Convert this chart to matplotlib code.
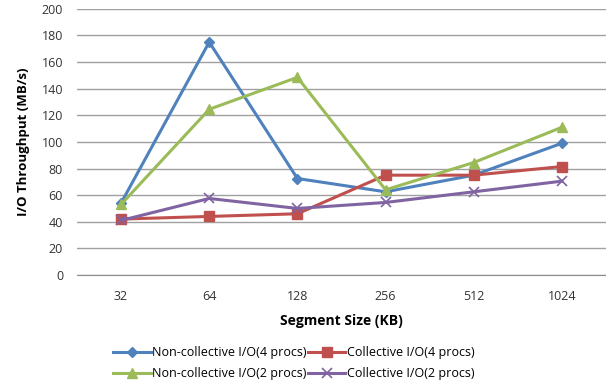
import matplotlib.pyplot as plt
import numpy as np

plt.rcParams['font.family'] = ['Open Sans', 'DejaVu Sans']

sizes = ['32', '64', '128', '256', '512', '1024']
noncoll_4 = [54, 175, 72.5, 62.5, 75, 99]
coll_4 = [42, 44, 46, 75, 75, 81.5]
noncoll_2 = [53, 124.5, 148.5, 64, 84.5, 111]
coll_2 = [41, 57.5, 50, 54.5, 62.5, 70.5]

fig = plt.figure(figsize=(6.06, 3.83), dpi=100)
ax = fig.add_axes([0.127, 0.282, 0.873, 0.695])

x = np.arange(len(sizes))
lw = 2.2
l1, = ax.plot(x, noncoll_4, color='#4F81BD', lw=lw, marker='D', ms=5, label='Non-collective I/O(4 procs)')
l2, = ax.plot(x, coll_4, color='#C0504D', lw=lw, marker='s', ms=7, label='Collective I/O(4 procs)')
l3, = ax.plot(x, noncoll_2, color='#9BBB59', lw=lw, marker='^', ms=7.5, label='Non-collective I/O(2 procs)')
l4, = ax.plot(x, coll_2, color='#8064A2', lw=lw, marker='x', ms=7, mew=1.2, label='Collective I/O(2 procs)')

ax.set_xlim(-0.5, len(sizes) - 0.5)
ax.set_ylim(0, 200)
ax.set_yticks(range(0, 201, 20))
ax.set_xticks(x)
ax.set_xticklabels(sizes)
ax.tick_params(length=0, labelsize=9, colors='#333333')
ax.tick_params(axis='x', pad=11)
ax.tick_params(axis='y', pad=10)
ax.grid(axis='y', color='#A0A0A0', lw=1)
ax.set_axisbelow(True)
for s in ['top', 'right', 'left']:
    ax.spines[s].set_visible(False)
ax.spines['bottom'].set_color('#8C8C8C')

ax.set_xlabel('Segment Size (KB)', fontsize=10, fontweight='bold', labelpad=8)
ax.set_ylabel('I/O Throughput (MB/s)', fontsize=9.5, fontweight='bold', labelpad=8)

handles = [l1, l3, l2, l4]
fig.legend(handles, [h.get_label() for h in handles], loc='center',
           bbox_to_anchor=(0.485, 0.052), ncol=2, frameon=False,
           fontsize=9, handlelength=3, columnspacing=0.1, handletextpad=0.1,
           labelspacing=0.65)

fig.savefig('out.png', dpi=100)
